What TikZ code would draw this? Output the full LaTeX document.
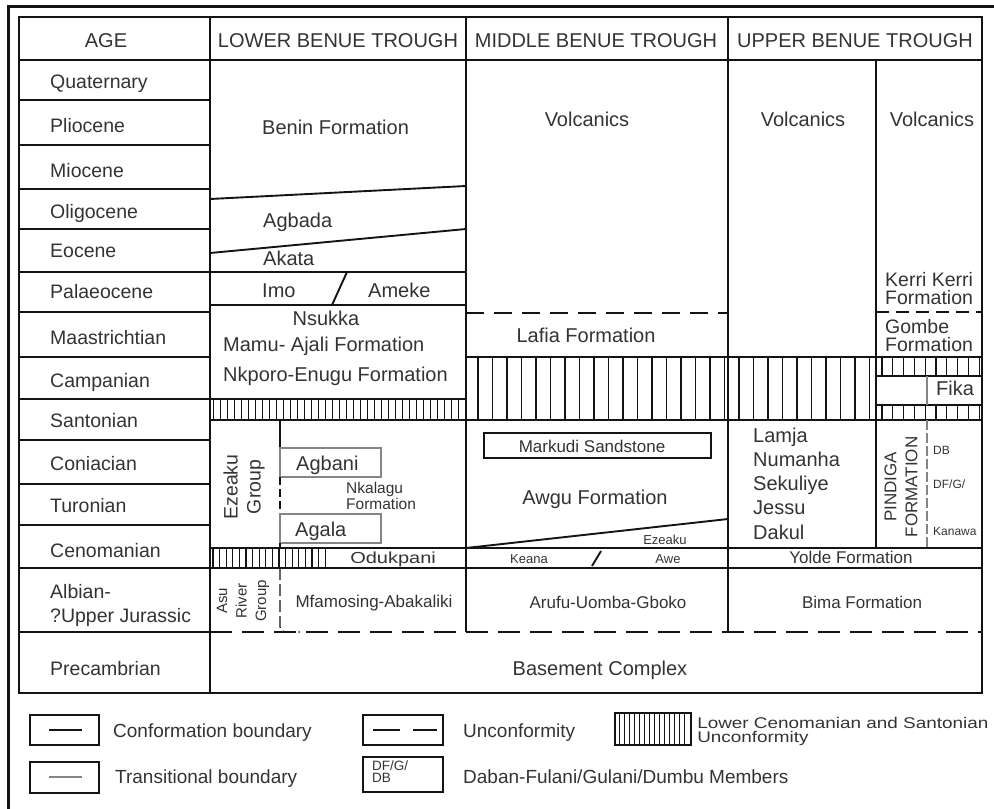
\documentclass[tikz,border=0pt]{standalone}
\usepackage{fontspec}
\setmainfont{Liberation Sans}
\usepackage{tikz}
\definecolor{ink}{HTML}{141414}
\definecolor{txt}{HTML}{333333}
\definecolor{soft}{HTML}{858585}
\newcommand{\fsz}[1]{\fontsize{#1}{#1}\selectfont}
\tikzstyle{bline}     = [draw=ink, line width=1.9pt]
\tikzstyle{thinbox}   = [draw=soft, line width=1.2pt]
\tikzstyle{unconf}    = [draw=ink, line width=1.9pt, dash pattern=on 22pt off 10pt]
\tikzstyle{hatchline} = [draw=ink, line width=1.3pt]

\begin{document}
\begin{tikzpicture}[%
  x=1pt, y=-1pt,
  every node/.style={text=txt, inner sep=0pt},
  lab/.style={font=\fsz{20}, anchor=base},
  labw/.style={lab, anchor=base west},
  agelab/.style={font=\fsz{19.5}, anchor=base west},
  smalllab/.style={font=\fsz{17}, anchor=base},
  tinylab/.style={font=\fsz{13}, anchor=base},
  legendlab/.style={font=\fsz{19}, anchor=base west},
  vertlab/.style={rotate=90, align=center, anchor=center}
  ]
  \useasboundingbox (0,0) rectangle (994,809);

  % Frame and table:
  \draw[ink, line width=2.6pt] (8.5,809) -- (8.5,6.5) -- (994,6.5);
  \draw[bline, line width=2.1pt] (19,17) rectangle (982,693);
  \draw[bline] (19,60) -- (982,60);
  \draw[bline] (210,17) -- (210,693);
  \draw[bline] (466,17) -- (466,632);
  \draw[bline] (728,17) -- (728,632);
  \draw[bline] (876,60) -- (876,548);
  \foreach \y in {100,145,189,229,272,312,357,399,440,484,525,568,632}
    \draw[bline] (19,\y) -- (210,\y);

  % Header:
  \node (h-age) [lab] at (106,47) {AGE};
  \node (h-lower) [lab] at (338,47) {LOWER BENUE TROUGH};
  \node (h-middle) [lab] at (596,47) {MIDDLE BENUE TROUGH};
  \node (h-upper) [lab] at (855,47) {UPPER BENUE TROUGH};

  % Ages:
  \node (a-quat) [agelab] at (50,88) {Quaternary};
  \node (a-plio) [agelab] at (50,132) {Pliocene};
  \node (a-mio) [agelab] at (50,177) {Miocene};
  \node (a-oligo) [agelab] at (50,218) {Oligocene};
  \node (a-eo) [agelab] at (50,257) {Eocene};
  \node (a-palaeo) [agelab] at (50,298) {Palaeocene};
  \node (a-maas) [agelab] at (50,344) {Maastrichtian};
  \node (a-camp) [agelab] at (50,387) {Campanian};
  \node (a-sant) [agelab] at (50,427) {Santonian};
  \node (a-coni) [agelab] at (50,470) {Coniacian};
  \node (a-turo) [agelab] at (50,512) {Turonian};
  \node (a-ceno) [agelab] at (50,557) {Cenomanian};
  \node (a-alb) [agelab] at (50,598) {Albian-};
  \node (a-jur) [agelab] at (50,622) {?Upper Jurassic};
  \node (a-pre) [agelab] at (50,675) {Precambrian};

  % Lower Benue Trough:
  \draw[bline] (210,199) -- (466,186);
  \draw[bline] (210,253) -- (466,229);
  \draw[bline] (210,272) -- (466,272);
  \draw[bline] (210,305) -- (466,305);
  \draw[bline] (347,272) -- (332,305);
  \draw[bline] (210,399) -- (466,399);
  \foreach \x in {213.5,220.5,...,463}
    \draw[hatchline] (\x,399) -- (\x,420);
  \draw[bline, line width=1.4pt] (280,420) -- (280,448);
  \draw[thinbox] (280,448) rectangle (381,477);
  \draw[bline, line width=1.3pt, dash pattern=on 8pt off 4pt] (280,477) -- (280,514);
  \draw[thinbox] (280,514) rectangle (381,543);
  \draw[bline, line width=1.3pt] (280,543) -- (280,548);
  \foreach \x in {213,219.6,...,331}
    \draw[hatchline] (\x,548) -- (\x,568);
  \draw[bline, line width=1.3pt, dash pattern=on 12pt off 4pt, rounded corners=5pt] (280,568) -- (280,632) -- (300,632);

  \node (l-benin) [labw] at (262,134) {Benin Formation};
  \node (l-agbada) [labw] at (263,227) {Agbada};
  \node (l-akata) [labw] at (263,265) {Akata};
  \node (l-imo) [labw] at (262,297) {Imo};
  \node (l-ameke) [labw] at (368,297) {Ameke};
  \node (l-nsukka) [lab] at (326,325) {Nsukka};
  \node (l-mamu) [labw] at (223,351) {Mamu- Ajali Formation};
  \node (l-nkporo) [labw] at (223,381) {Nkporo-Enugu Formation};
  \node (l-ezeaku) [vertlab, font=\fontsize{19.5}{23}\selectfont] at (244,487) {Ezeaku\\Group};
  \node (l-agbani) [labw] at (296,470) {Agbani};
  \node (l-nkalagu) [font=\fsz{15.5}, anchor=base west] at (346,493) {Nkalagu};
  \node (l-nkalagu2) [font=\fsz{15.5}, anchor=base west] at (346,509) {Formation};
  \node (l-agala) [labw] at (295,536) {Agala};
  \node (l-odukpani) [font=\fsz{16}, anchor=base west, xscale=1.25] at (350,563) {Odukpani};
  \node (l-asu) [vertlab, font=\fontsize{15}{19.5}\selectfont] at (243,601) {Asu\\River\\Group};
  \node (l-mfamosing) [smalllab] at (374,607) {Mfamosing-Abakaliki};

  % Middle Benue Trough:
  \draw[bline, dash pattern=on 18pt off 10pt] (466,313) -- (728,313);
  \draw[bline] (466,357) -- (982,357);
  \draw[bline] (210,420) -- (982,420);
  \foreach \x in {478,492.5,...,872}
    \draw[bline] (\x,357) -- (\x,420);
  \draw[bline] (484,433) rectangle (711,458);
  \draw[bline] (466,548) -- (728,519);
  \draw[bline] (210,548) -- (982,548);
  \draw[bline] (601,551) -- (592,566);
  \draw[bline] (210,568) -- (982,568);

  \node (m-volc) [lab] at (587,126) {Volcanics};
  \node (m-lafia) [lab] at (586,342) {Lafia Formation};
  \node (m-markudi) [smalllab] at (592,452) {Markudi Sandstone};
  \node (m-awgu) [lab] at (595,504) {Awgu Formation};
  \node (m-ezeaku) [tinylab] at (665,544) {Ezeaku};
  \node (m-keana) [tinylab] at (529,563) {Keana};
  \node (m-awe) [tinylab] at (668,563) {Awe};
  \node (m-arufu) [smalllab] at (608,608) {Arufu-Uomba-Gboko};

  % Upper Benue Trough:
  \draw[bline, dash pattern=on 13pt off 7pt] (876,312) -- (982,312);
  \draw[bline] (876,376) -- (982,376);
  \draw[bline] (876,405) -- (982,405);
  \foreach \x in {882,892.8,...,981}
    {\draw[hatchline] (\x,357) -- (\x,376);
     \draw[hatchline] (\x,405) -- (\x,420);}
  \draw[thinbox] (927,376) -- (927,405);
  \draw[thinbox, dash pattern=on 10pt off 3pt] (927,420) -- (927,548);

  \node (u-volc) [lab] at (803,126) {Volcanics};
  \node (u-volc2) [lab] at (932,126) {Volcanics};
  \node (u-kerri) [font=\fsz{19.5}, anchor=base west] at (885,286) {Kerri Kerri};
  \node (u-kerri2) [font=\fsz{19.5}, anchor=base west] at (885,304) {Formation};
  \node (u-gombe) [font=\fsz{19.5}, anchor=base west] at (885,333) {Gombe};
  \node (u-gombe2) [font=\fsz{19.5}, anchor=base west] at (885,351) {Formation};
  \node (u-fika) [labw] at (936,395) {Fika};
  \node (u-lamja) [labw] at (753,442) {Lamja};
  \node (u-numanha) [labw] at (753,466) {Numanha};
  \node (u-sekuliye) [labw] at (753,490) {Sekuliye};
  \node (u-jessu) [labw] at (753,514) {Jessu};
  \node (u-dakul) [labw] at (753,539) {Dakul};
  \node (u-pindiga) [vertlab, font=\fontsize{17}{21}\selectfont] at (901,487) {PINDIGA\\FORMATION};
  \node (u-db) [font=\fsz{12}, anchor=base west] at (933,454) {DB};
  \node (u-dfg) [font=\fsz{12}, anchor=base west] at (933,488) {DF/G/};
  \node (u-kanawa) [font=\fsz{12}, anchor=base west] at (933,535) {Kanawa};
  \node (u-yolde) [smalllab] at (851,563) {Yolde Formation};
  \node (u-bima) [smalllab] at (862,608) {Bima Formation};

  % Basement:
  \draw[unconf] (210,632) -- (982,632);
  \node (b-basement) [lab] at (600,675) {Basement Complex};

  % Legend:
  \draw[bline, line width=2.1pt] (30,715) rectangle (99,745);
  \draw[ink, line width=2.2pt] (49,730) -- (82,730);
  \node (k-conf) [legendlab] at (113,737) {Conformation boundary};
  \draw[bline, line width=2.1pt] (30,762) rectangle (99,793);
  \draw[soft, line width=2pt] (49,777) -- (82,777);
  \node (k-trans) [legendlab] at (115,783) {Transitional boundary};
  \draw[bline, line width=2.1pt] (363,715) rectangle (443,745);
  \draw[ink, line width=2pt] (373,730) -- (400,730);
  \draw[ink, line width=2pt] (413,730) -- (437,730);
  \node (k-unconf) [legendlab] at (463,737) {Unconformity};
  \draw[bline, line width=2.1pt] (363,757) rectangle (443,792);
  \node (k-dfg) [font=\fsz{13.5}, anchor=base west] at (372,770) {DF/G/};
  \node (k-db) [font=\fsz{13.5}, anchor=base west] at (372,782) {DB};
  \node (k-members) [legendlab] at (463,783) {Daban-Fulani/Gulani/Dumbu Members};
  \foreach \x in {619,624,...,688}
    \draw[hatchline, line width=1pt] (\x,713) -- (\x,745);
  \draw[bline, line width=2.1pt] (615,713) rectangle (691,745);
  \node (k-ceno) [font=\fsz{15.5}, anchor=base west, xscale=1.22] at (697,728) {Lower Cenomanian and Santonian};
  \node (k-ceno2) [font=\fsz{15.5}, anchor=base west, xscale=1.22] at (697,742) {Unconformity};
\end{tikzpicture}
\end{document}
